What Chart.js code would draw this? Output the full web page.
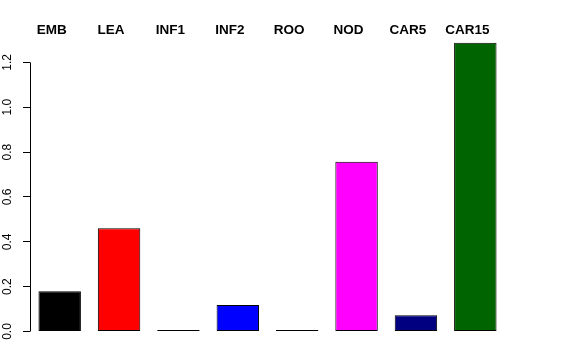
<!DOCTYPE html>
<html>
<head>
<meta charset="utf-8">
<script src="https://cdn.jsdelivr.net/npm/chart.js@4"></script>
<style>
  html, body { margin: 0; padding: 0; background: #fff; }
  #wrap { width: 576px; height: 360px; }
</style>
</head>
<body>
<div id="wrap"><canvas id="chart" width="576" height="360"></canvas></div>
<script>
// values
const categories = ['EMB', 'LEA', 'INF1', 'INF2', 'ROO', 'NOD', 'CAR5', 'CAR15'];
const values = [0.180, 0.460, 0, 0.118, 0, 0.757, 0.072, 1.288];
const barColors = ['#000000', '#ff0000', '#555555', '#0000ff', '#555555', '#ff00ff', '#000080', '#006400'];
const yTicks = [0, 0.2, 0.4, 0.6, 0.8, 1.0, 1.2];

// R style y axis: line only from first to last tick, labels turned 90 degrees
const rAxis = {
    id: 'rAxis',
    afterDraw(chart) {
        const ctx = chart.ctx;
        const y = chart.scales.y;
        const x0 = Math.round(y.right) + 0.5;
        ctx.save();
        ctx.strokeStyle = '#000';
        ctx.lineWidth = 1;
        ctx.beginPath();
        ctx.moveTo(x0, y.getPixelForValue(yTicks[0]));
        ctx.lineTo(x0, y.getPixelForValue(yTicks[yTicks.length - 1]));
        ctx.stroke();

        ctx.fillStyle = '#000';
        ctx.font = '12px "Liberation Sans", Arial, sans-serif';
        ctx.textAlign = 'center';
        ctx.textBaseline = 'middle';
        yTicks.forEach(v => {
            ctx.save();
            ctx.translate(7.5, y.getPixelForValue(v));
            ctx.rotate(-Math.PI / 2);
            ctx.fillText(v.toFixed(1), 0, 0);
            ctx.restore();
        });
        ctx.restore();
    }
};

new Chart(document.getElementById('chart'), {
    type: 'bar',
    data: {
        labels: categories,
        datasets: [{
            data: values,
            backgroundColor: barColors,
            borderColor: '#000',
            borderWidth: 1,
            borderSkipped: false,
            minBarLength: 1.6,
            barPercentage: 0.715,
            categoryPercentage: 1
        }]
    },
    options: {
        responsive: false,
        animation: false,
        layout: { padding: { left: 0, right: 71, top: 0, bottom: 28.5 } },
        plugins: {
            legend: { display: false },
            tooltip: { enabled: false }
        },
        scales: {
            x: {
                position: 'top',
                grid: { display: false, drawTicks: false },
                border: { display: false },
                ticks: {
                    color: '#000',
                    font: { family: '"Liberation Sans", Arial, sans-serif', size: 13.5, weight: 'bold' },
                    padding: 4,
                    labelOffset: -8,
                    autoSkip: false,
                    maxRotation: 0
                },
                afterFit(scale) { scale.height = 42.2; }
            },
            y: {
                min: 0,
                max: 1.29,
                grid: { drawOnChartArea: false, tickLength: 7, color: '#000' },
                border: { display: false },
                ticks: { display: false, stepSize: 0.2, includeBounds: false },
                afterFit(scale) { scale.width = 30; }
            }
        }
    },
    plugins: [rAxis]
});
</script>
</body>
</html>
